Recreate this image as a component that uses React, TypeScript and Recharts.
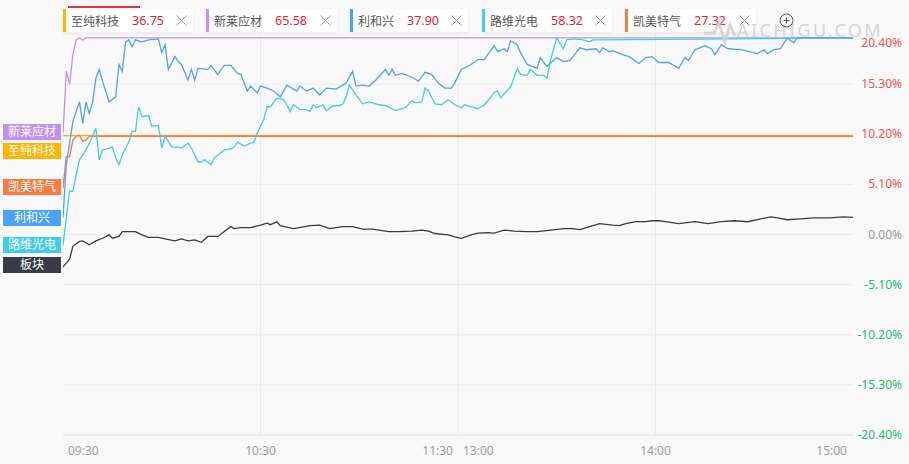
import React from "react";
import { LineChart, Line, XAxis, YAxis, CartesianGrid, ReferenceLine } from "recharts";

// minutes since 09:30 (trading minutes, lunch break removed), 240 = 15:00
const timeTicks = [0, 60, 120, 180, 240];
const pctTicks = [-20.4, -15.3, -10.2, -5.1, 0, 5.1, 10.2, 15.3, 20.4];

const legendNames = ["至纯科技", "新莱应材", "利和兴", "路维光电", "凯美特气"];
const legendPrices = ["36.75", "65.58", "37.90", "58.32", "27.32"];
const tagNames = ["新莱应材", "至纯科技", "凯美特气", "利和兴", "路维光电", "板块"];

// 利和兴
const liheTimes = [0, 1, 3, 5, 6, 7, 8, 9, 10, 11, 12, 14, 16, 17, 18, 19, 20, 21, 22, 24, 26, 29, 30, 31, 32, 34, 35, 36, 38, 39, 40, 41, 44, 45, 47, 49, 51, 53, 54, 56, 57, 59, 60, 62, 64, 66, 68, 71, 72, 74, 76, 78, 80, 83, 86, 88, 89, 91, 93, 95, 98, 99, 100, 101, 103, 106, 108, 110, 112, 114, 116, 118, 119, 121, 124, 126, 128, 129, 131, 132, 134, 135, 136, 138, 139, 141, 144, 145, 147, 150, 152, 154, 157, 159, 162, 163, 164, 166, 167, 170, 172, 174, 175, 177, 179, 181, 184, 187, 189, 190, 192, 195, 197, 198, 200, 202, 206, 211, 213, 214, 216, 218, 220, 222, 223, 240];
const liheValues = [1.7, 7.1, 11.5, 13.5, 11.3, 13.5, 12.3, 13.5, 15.9, 16.8, 15.6, 13.5, 14.0, 17.3, 16.6, 19.6, 19.8, 19.1, 19.8, 19.6, 19.8, 19.9, 18.5, 19.3, 16.8, 18.1, 17.6, 17.3, 15.7, 16.8, 15.7, 16.9, 16.8, 17.2, 16.3, 17.2, 17.2, 16.4, 16.3, 14.6, 15.1, 14.4, 15.1, 14.9, 14.6, 14.0, 15.2, 14.6, 15.1, 14.6, 14.9, 14.2, 14.9, 14.8, 15.4, 16.6, 15.1, 15.2, 15.1, 15.7, 16.8, 16.2, 16.8, 16.2, 16.4, 16.0, 15.6, 16.5, 16.3, 15.4, 14.9, 14.9, 15.4, 16.8, 17.3, 17.8, 17.8, 18.3, 19.2, 18.6, 18.9, 18.6, 19.7, 19.3, 18.5, 17.3, 16.9, 18.0, 17.1, 18.0, 17.6, 17.7, 19.0, 18.8, 18.9, 18.5, 19.0, 18.6, 18.7, 18.3, 18.1, 17.6, 17.4, 18.0, 18.1, 17.5, 17.5, 16.9, 18.0, 17.7, 18.8, 19.2, 18.9, 18.3, 19.3, 18.9, 18.8, 18.4, 18.8, 18.4, 18.8, 18.9, 20.0, 19.5, 20.0, 20.0];

// 路维光电
const luweiTimes = [0, 2, 3, 4, 5, 7, 8, 9, 10, 11, 12, 15, 16, 17, 18, 20, 21, 22, 23, 24, 26, 27, 29, 30, 31, 33, 35, 36, 38, 39, 41, 42, 43, 45, 46, 49, 51, 52, 53, 55, 57, 58, 59, 61, 62, 63, 65, 67, 68, 69, 70, 72, 74, 75, 76, 77, 79, 80, 82, 84, 85, 86, 87, 89, 91, 93, 96, 98, 101, 104, 106, 107, 109, 110, 111, 113, 115, 117, 119, 121, 122, 126, 128, 130, 131, 132, 133, 135, 136, 138, 139, 141, 142, 144, 146, 147, 148, 149, 150, 152, 153, 155, 158, 160, 161, 162, 240];
const luweiValues = [-1.1, 4.4, 4.4, 6.1, 7.6, 8.6, 9.3, 10.0, 10.8, 7.6, 8.6, 8.9, 7.8, 7.1, 8.1, 9.4, 10.5, 10.5, 13.0, 12.0, 12.1, 11.0, 11.1, 8.8, 10.0, 8.9, 8.9, 8.8, 9.3, 8.8, 7.4, 7.4, 7.6, 7.1, 7.8, 8.6, 8.7, 8.9, 9.4, 9.0, 9.3, 9.4, 10.3, 11.7, 13.0, 13.0, 13.9, 13.7, 13.2, 12.5, 13.2, 12.7, 12.7, 12.5, 13.2, 12.9, 13.2, 12.6, 13.1, 13.1, 13.3, 14.0, 15.2, 14.2, 13.3, 13.5, 13.2, 13.1, 12.6, 12.9, 13.6, 13.4, 13.5, 14.9, 14.6, 13.3, 13.2, 13.7, 13.2, 12.9, 13.2, 12.8, 13.2, 14.0, 14.5, 14.6, 13.9, 14.7, 15.0, 16.9, 16.3, 16.2, 16.8, 16.2, 16.2, 15.9, 17.6, 18.8, 20.0, 18.9, 19.8, 19.9, 19.8, 19.6, 19.8, 19.8, 20.0, 20.0];

// 板块
const sectorTimes = [0, 2, 3, 5, 6, 8, 10, 12, 14, 15, 17, 18, 22, 24, 26, 29, 31, 34, 36, 38, 40, 42, 44, 47, 49, 51, 52, 54, 57, 60, 62, 63, 65, 66, 70, 75, 78, 81, 85, 88, 91, 94, 99, 102, 106, 109, 111, 113, 117, 119, 121, 124, 126, 129, 131, 134, 137, 141, 144, 147, 152, 155, 157, 160, 163, 167, 169, 171, 174, 177, 179, 181, 183, 187, 192, 196, 200, 204, 208, 212, 215, 217, 220, 224, 228, 233, 237, 240];
const sectorValues = [-3.3, -2.5, -1.2, -0.7, -0.65, -1.05, -0.65, -0.38, -0.04, -0.38, -0.2, 0.3, 0.3, -0.04, -0.3, -0.3, -0.45, -0.65, -0.45, -0.65, -0.55, -0.8, -0.2, -0.2, 0.3, 0.8, 0.6, 0.7, 0.7, 0.95, 1.15, 1.0, 1.3, 0.9, 0.6, 0.9, 0.95, 0.6, 0.8, 0.8, 0.55, 0.55, 0.3, 0.3, 0.35, 0.45, 0.35, 0.1, -0.04, -0.25, -0.4, -0.04, 0.15, 0.2, 0.15, 0.45, 0.35, 0.3, 0.3, 0.4, 0.6, 0.6, 0.5, 0.8, 1.1, 0.95, 0.9, 1.1, 1.3, 1.3, 1.4, 1.4, 1.3, 1.1, 1.3, 1.1, 1.3, 1.4, 1.3, 1.6, 1.8, 1.7, 1.5, 1.6, 1.7, 1.7, 1.8, 1.75];

// 新莱应材
const xinlaiTimes = [0, 1, 2, 3, 4, 5, 6, 7, 240];
const xinlaiValues = [10.3, 16.6, 15.3, 18.3, 19.8, 20.0, 19.8, 20.0, 20.0];

// 凯美特气
const kaimeiTimes = [0, 1, 2, 3, 4, 5, 6, 7, 8, 240];
const kaimeiValues = [4.7, 7.9, 7.9, 9.6, 10.0, 10.1, 9.5, 9.6, 10.0, 10.0];

// 至纯科技
const zhichunTimes = [0, 240];
const zhichunValues = [10.05, 10.05];

const zip = (times: number[], values: number[]) =>
  times.map((t, i) => ({ t, v: values[i] }));

const FONT = '"Noto Sans", "Noto Sans CJK SC", sans-serif';
const C = {
  zhichun: "#ffb400",
  xinlai: "#c191f2",
  lihe: "#4ea1fb",
  luwei: "#3fcdea",
  kaimei: "#ff7a40",
  sector: "#383c47",
};
const legendColors = [C.zhichun, C.xinlai, C.lihe, C.luwei, C.kaimei];
const tagColors = [C.xinlai, C.zhichun, C.kaimei, C.lihe, C.luwei, C.sector];

const PctTick = (props: any) => {
  const { x, y, payload } = props;
  const v = payload.value as number;
  const fill = v > 0 ? "#f4524d" : v < 0 ? "#1fbb6b" : "#9a9a9a";
  const shift = v === 20.4 ? 9 : 0;
  return (
    <text x={x + 41} y={y + shift} dy={4} textAnchor="end" fill={fill} fontSize={12} fontFamily={FONT}>
      {v.toFixed(2)}%
    </text>
  );
};

const TimeTick = (props: any) => {
  const { x, y, payload } = props;
  const v = payload.value as number;
  const common = { y, dy: 12, fill: "#9c9c9c", fontSize: 12, fontFamily: FONT };
  if (v === 120) {
    return (
      <g>
        <text {...common} x={x - 5} textAnchor="end">11:30</text>
        <text {...common} x={x + 5} textAnchor="start">13:00</text>
      </g>
    );
  }
  const label = { 0: "09:30", 60: "10:30", 180: "14:00", 240: "15:00" }[v] as string;
  const anchor = v === 0 ? "start" : v === 240 ? "end" : "middle";
  const dx = v === 0 ? 5 : v === 240 ? -6 : 0;
  return (
    <text {...common} x={x + dx} textAnchor={anchor}>{label}</text>
  );
};

const Cross = () => (
  <svg width={11} height={11} style={{ display: "block" }}>
    <line x1={0.5} y1={0.5} x2={10.5} y2={10.5} stroke="#9b9b9b" strokeWidth={1} />
    <line x1={10.5} y1={0.5} x2={0.5} y2={10.5} stroke="#9b9b9b" strokeWidth={1} />
  </svg>
);

export default function App() {
  const legendLefts = [63, 206, 350, 482, 625];
  const legendWidths = [130, 131, 118, 130, 131];
  const tagTops = [124, 143, 179, 210, 237, 257];

  return (
    <div style={{ position: "absolute", left: 0, top: 0, width: 909, height: 464, background: "#f9f9f9", fontFamily: FONT, overflow: "hidden" }}>
      <LineChart width={909} height={464} margin={{ top: 34, right: 0, bottom: 0, left: 63 }}>
        <CartesianGrid stroke="#ebebeb" vertical={false} />
        <XAxis
          dataKey="t"
          type="number"
          domain={[0, 240]}
          ticks={timeTicks}
          tick={<TimeTick />}
          tickLine={false}
          axisLine={{ stroke: "#e6e6e6" }}
          height={29}
          allowDataOverflow
        />
        <YAxis
          orientation="right"
          type="number"
          domain={[-20.4, 20.4]}
          ticks={pctTicks}
          tick={<PctTick />}
          tickLine={false}
          axisLine={false}
          width={56}
          allowDataOverflow
        />
        <ReferenceLine x={60} stroke="#ebebeb" />
        <ReferenceLine x={120} stroke="#ebebeb" />
        <ReferenceLine x={180} stroke="#ebebeb" />
        <Line data={zip(xinlaiTimes, xinlaiValues)} dataKey="v" type="linear" stroke={C.xinlai} strokeWidth={1.3} dot={false} isAnimationActive={false} />
        <Line data={zip(zhichunTimes, zhichunValues)} dataKey="v" type="linear" stroke={C.zhichun} strokeWidth={1.2} dot={false} isAnimationActive={false} />
        <Line data={zip(kaimeiTimes, kaimeiValues)} dataKey="v" type="linear" stroke={C.kaimei} strokeWidth={1.4} dot={false} isAnimationActive={false} />
        <Line data={zip(luweiTimes, luweiValues)} dataKey="v" type="linear" stroke={C.luwei} strokeWidth={1.3} dot={false} isAnimationActive={false} />
        <Line data={zip(liheTimes, liheValues)} dataKey="v" type="linear" stroke={C.lihe} strokeWidth={1.3} dot={false} isAnimationActive={false} />
        <Line data={zip(sectorTimes, sectorValues)} dataKey="v" type="linear" stroke={C.sector} strokeWidth={1.3} dot={false} isAnimationActive={false} />
      </LineChart>

      {/* legend boxes */}
      <div style={{ position: "absolute", left: 68, top: 6, width: 72, height: 2, background: "#e5323b" }} />
      {legendNames.map((n, i) => (
        <div
          key={n}
          style={{
            position: "absolute",
            left: legendLefts[i],
            top: 9,
            width: legendWidths[i],
            height: 23,
            boxSizing: "border-box",
            background: "#fff",
            borderLeft: `3px solid ${legendColors[i]}`,
            boxShadow: "0 1px 2px rgba(0,0,0,0.06)",
            display: "flex",
            alignItems: "center",
            paddingLeft: 5,
            paddingRight: 6,
            fontSize: 12,
            whiteSpace: "nowrap",
          }}
        >
          <span style={{ color: "#555" }}>{n}</span>
          <span style={{ color: "#e5232f", marginLeft: 13, fontSize: 12.5 }}>{legendPrices[i]}</span>
          <span style={{ marginLeft: "auto" }}><Cross /></span>
        </div>
      ))}

      {/* watermark and add button */}
      <svg width={909} height={60} style={{ position: "absolute", left: 0, top: 0, pointerEvents: "none" }}>
        <polyline points="704,33 714,33 719,23 725,42 730,25 735,36" fill="none" stroke="#cfcfcf" strokeOpacity={0.85} strokeWidth={3} />
        <text x={737} y={37} fill="#cfcfcf" fillOpacity={0.85} fontSize={18} fontFamily={FONT} letterSpacing={2.4}>AICHIGU.COM</text>
        <circle cx={786.5} cy={20.5} r={6.5} fill="none" stroke="#555" strokeWidth={1} />
        <line x1={783.5} y1={20.5} x2={789.5} y2={20.5} stroke="#555" strokeWidth={1} />
        <line x1={786.5} y1={17.5} x2={786.5} y2={23.5} stroke="#555" strokeWidth={1} />
      </svg>

      {/* left tags */}
      {tagNames.map((n, i) => (
        <div
          key={n}
          style={{
            position: "absolute",
            left: 3,
            top: tagTops[i],
            width: 58,
            height: 16,
            background: tagColors[i],
            color: "#fff",
            fontSize: 12,
            lineHeight: "16px",
            textAlign: "center",
            whiteSpace: "nowrap",
          }}
        >
          {n}
        </div>
      ))}
    </div>
  );
}
